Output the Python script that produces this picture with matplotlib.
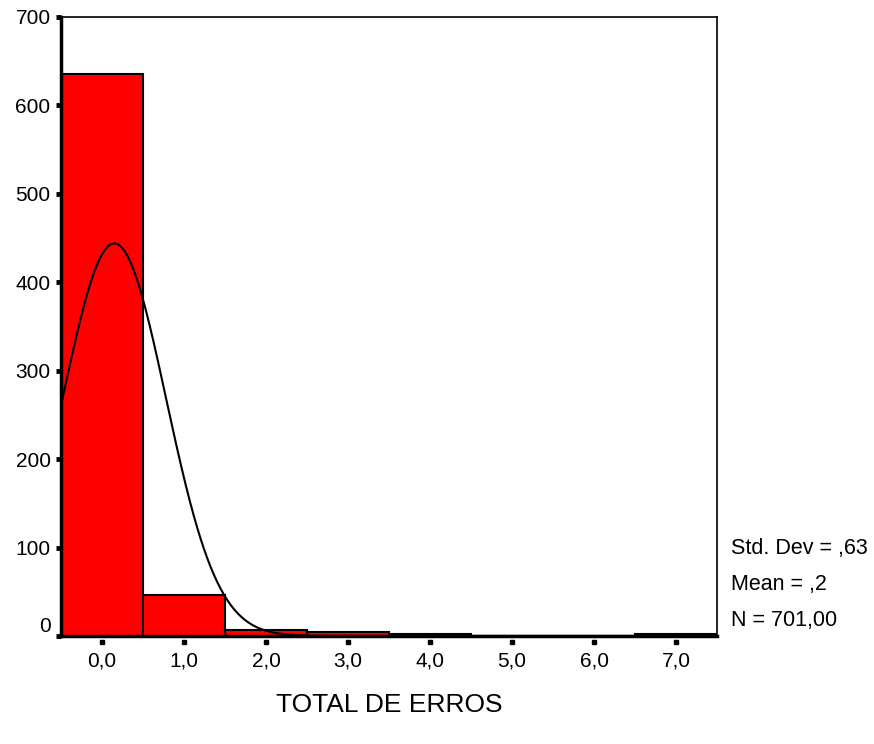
import matplotlib.pyplot as plt
import matplotlib.transforms as mtransforms
import numpy as np

plt.rcParams['font.family'] = ['Liberation Sans', 'DejaVu Sans']

# histogram of TOTAL DE ERROS (bin centres and counts)
bin_centers = [0, 1, 2, 3, 4, 5, 6, 7]
counts = [635, 46, 7, 4, 2, 0, 0, 2]
x_labels = ['0,0', '1,0', '2,0', '3,0', '4,0', '5,0', '6,0', '7,0']
y_ticks = [0, 100, 200, 300, 400, 500, 600, 700]

# summary stats printed by SPSS
std_dev = 0.63
mean = 0.15
n = 701
stats_text = ['Std. Dev = ,63', 'Mean = ,2', 'N = 701,00']

fig = plt.figure(figsize=(8.74, 7.44), dpi=100)
ax = fig.add_axes([0.0698, 0.1452, 0.7506, 0.832])

ax.bar(bin_centers, counts, width=1.0, color='#ff0000', edgecolor='black', linewidth=1.5)

# fitted normal curve
xs = np.linspace(-0.5, 7.5, 800)
ys = n / (std_dev * np.sqrt(2 * np.pi)) * np.exp(-(xs - mean) ** 2 / (2 * std_dev ** 2))
ax.plot(xs, ys, color='black', linewidth=1.5)

ax.set_xlim(-0.5, 7.5)
ax.set_ylim(0, 700)
ax.set_xticks(bin_centers)
ax.set_xticklabels(x_labels)
ax.set_yticks(y_ticks)
ax.tick_params(axis='x', length=0, labelsize=15, pad=11)
ax.tick_params(axis='y', direction='out', length=3.5, width=3.5, labelsize=15, pad=4)
ax.get_yticklabels()[0].set_verticalalignment('bottom')

# detached tick marks under the x axis, SPSS style
trans = mtransforms.blended_transform_factory(ax.transData, ax.transAxes)
ax.plot(bin_centers, [-0.009] * len(bin_centers), ls='none', marker='s', ms=3.5,
        color='black', transform=trans, clip_on=False)

for s in ax.spines.values():
    s.set_linewidth(1.2)
ax.spines['left'].set_linewidth(2.5)
ax.spines['bottom'].set_linewidth(2.5)

fig.text(0.445, 0.0524, 'TOTAL DE ERROS', fontsize=19, ha='center', va='center')

for i, t in enumerate(stats_text):
    fig.text(0.836, 0.263 - i * 0.0485, t, fontsize=15.5, va='center', ha='left')

plt.savefig('out.png', dpi=100)
